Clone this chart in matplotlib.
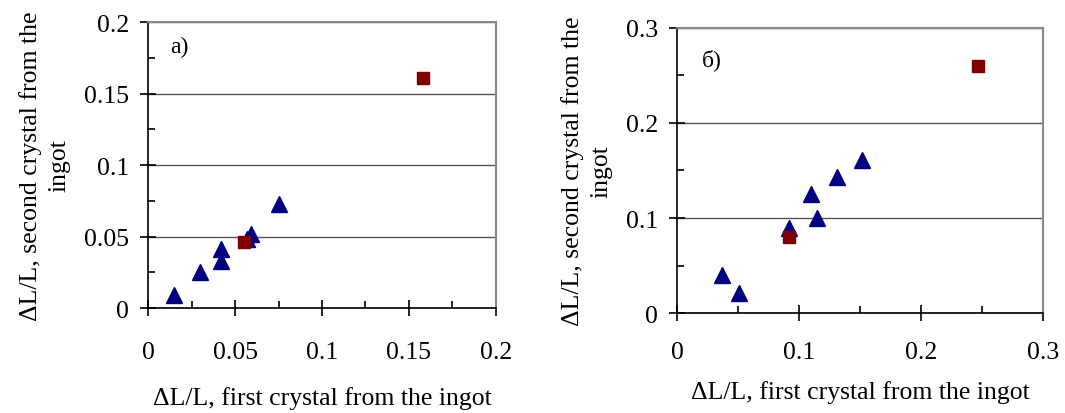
import matplotlib.pyplot as plt
from matplotlib.ticker import MultipleLocator

plt.rcParams['font.family'] = ['Liberation Serif', 'DejaVu Serif']

# panel a)
a_tri_x = [0.015, 0.030, 0.042, 0.042, 0.057, 0.059, 0.075]
a_tri_y = [0.009, 0.025, 0.041, 0.033, 0.048, 0.052, 0.073]
a_sq_x = [0.055, 0.158]
a_sq_y = [0.046, 0.161]

# panel б)
b_tri_x = [0.037, 0.051, 0.092, 0.110, 0.115, 0.131, 0.152]
b_tri_y = [0.040, 0.021, 0.090, 0.125, 0.100, 0.143, 0.161]
b_sq_x = [0.092, 0.247]
b_sq_y = [0.080, 0.260]

a_ticks = [0, 0.05, 0.1, 0.15, 0.2]
a_labels = ['0', '0.05', '0.1', '0.15', '0.2']
b_ticks = [0, 0.1, 0.2, 0.3]
b_labels = ['0', '0.1', '0.2', '0.3']

xlabel = '\u0394L/L, first crystal from the ingot'
ylabel = '\u0394L/L, second crystal from the\ningot'

fig = plt.figure(figsize=(10.65, 4.14), dpi=100)
ax1 = fig.add_axes([0.139, 0.2536, 0.3267, 0.6908])
ax2 = fig.add_axes([0.6357, 0.2415, 0.3436, 0.6885])


def style(ax, ticks, labels, minor, lim, xpad, xlpad):
    ax.set_xlim(0, lim)
    ax.set_ylim(0, lim)
    ax.set_xticks(ticks)
    ax.set_xticklabels(labels)
    ax.set_yticks(ticks)
    ax.set_yticklabels(labels)
    ax.xaxis.set_minor_locator(MultipleLocator(minor))
    ax.yaxis.set_minor_locator(MultipleLocator(minor))
    ax.yaxis.grid(True, which='major', color='#555555', linewidth=1)
    ax.set_axisbelow(True)
    for s in ['top', 'right']:
        ax.spines[s].set_color('#888888')
        ax.spines[s].set_linewidth(1.5)
    for s in ['left', 'bottom']:
        ax.spines[s].set_linewidth(1.2)
    ax.tick_params(which='major', direction='inout', length=11, width=1.2,
                   labelsize=18.5)
    ax.tick_params(which='minor', direction='in', length=5, width=1.2)
    ax.tick_params(axis='x', which='major', pad=xpad)
    ax.tick_params(axis='y', which='major', pad=8)
    ax.set_xlabel(xlabel, fontsize=18.5, labelpad=xlpad)
    ax.set_ylabel(ylabel, fontsize=18.5, labelpad=10, linespacing=1.35)


style(ax1, a_ticks, a_labels, 0.025, 0.2, 18, 17)
style(ax2, b_ticks, b_labels, 0.05, 0.3, 15, 12)

ax1.plot(a_tri_x, a_tri_y, '^', color='#000080', markersize=11, linestyle='none', clip_on=False)
ax1.plot(a_sq_x, a_sq_y, 's', color='#800000', markersize=9, linestyle='none', clip_on=False)
ax2.plot(b_tri_x, b_tri_y, '^', color='#000080', markersize=11, linestyle='none', clip_on=False)
ax2.plot(b_sq_x, b_sq_y, 's', color='#800000', markersize=9, linestyle='none', clip_on=False)

ax1.text(0.063, 0.915, 'a)', transform=ax1.transAxes, fontsize=17, va='center')
ax2.text(0.068, 0.89, '\u0431)', transform=ax2.transAxes, fontsize=17, va='center')

fig.savefig('out.png', dpi=100)
